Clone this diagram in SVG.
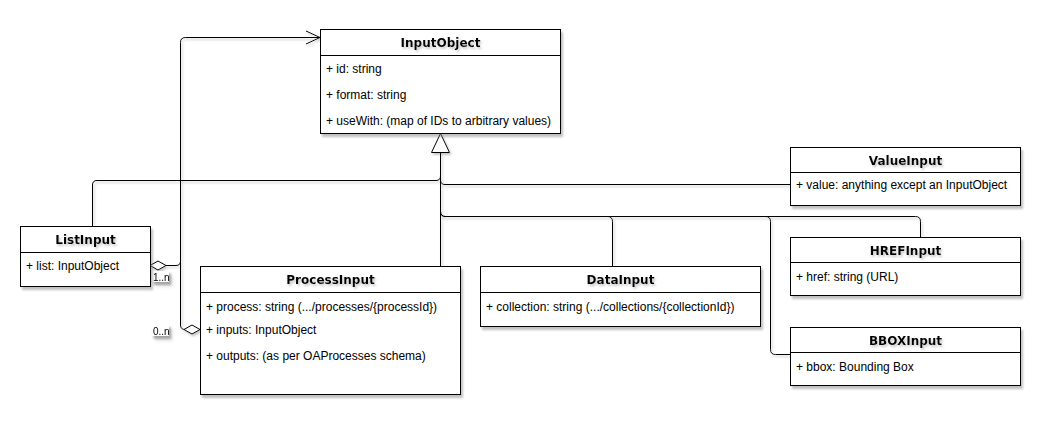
<svg xmlns="http://www.w3.org/2000/svg" width="1052" height="426" viewBox="0 0 1052 426">
<defs>
<filter id="sh" x="-10%" y="-10%" width="130%" height="140%">
<feDropShadow dx="2" dy="3" stdDeviation="1.3" flood-color="#808080" flood-opacity="0.5"/>
</filter>
<filter id="tsh" x="-10%" y="-30%" width="130%" height="180%">
<feDropShadow dx="1.5" dy="2" stdDeviation="1" flood-color="#808080" flood-opacity="0.45"/>
</filter>
<marker id="open" markerUnits="userSpaceOnUse" markerWidth="16" markerHeight="15" refX="14" refY="6.5" orient="auto" overflow="visible">
<path d="M0,0 L14,6.5 L0,13" fill="none" stroke="#000" stroke-width="1"/>
</marker>
<marker id="diamond" markerUnits="userSpaceOnUse" markerWidth="18" markerHeight="12" refX="0" refY="5" orient="auto" overflow="visible">
<path d="M0,5 L8,0.5 L16,5 L8,9.5 Z" fill="#fff" stroke="#000" stroke-width="1"/>
</marker>
<marker id="tri" markerUnits="userSpaceOnUse" markerWidth="22" markerHeight="22" refX="19" refY="9" orient="auto" overflow="visible">
<path d="M0,0 L19,9 L0,18 Z" fill="#fff" stroke="#000" stroke-width="1"/>
</marker>
</defs>
<style>
.box{fill:#fff;stroke:#000;stroke-width:1;filter:url(#sh)}
.sep{stroke:#000;stroke-width:1}
.title{font-family:"DejaVu Sans",Verdana,sans-serif;font-weight:bold;font-size:12px;fill:#000;text-anchor:middle;filter:url(#tsh)}
.attr{font-family:"Liberation Sans",Arial,sans-serif;font-size:12px;fill:#000}
.lbl{font-family:"Liberation Sans",Arial,sans-serif;font-size:10px;fill:#000}
.lblbg{fill:#fff;filter:url(#sh)}
.edge{fill:none;stroke:#000;stroke-width:1}
</style>
<rect width="1052" height="426" fill="#fff"/>

<g id="connectors" filter="url(#tsh)">
<path class="edge" d="M92.5,226 V185 Q92.5,180.5 97,180.5 H436 Q440.5,180.5 440.5,176 V152"/>
<path class="edge" d="M790,184.5 H445 Q440.5,184.5 440.5,180 V152"/>
<path class="edge" d="M612.5,266 V221.5 Q612.5,216.5 607.5,216.5 H445.5 Q440.5,216.5 440.5,211.5 V152"/>
<path class="edge" d="M920.5,237 V221.5 Q920.5,216.5 915.5,216.5 H445.5 Q440.5,216.5 440.5,211.5 V152"/>
<path class="edge" d="M790,354.5 H775.5 Q770.5,354.5 770.5,349.5 V221.5 Q770.5,216.5 765.5,216.5 H445.5"/>
<path class="edge" d="M440.5,266 V133.5" marker-end="url(#tri)"/>
<path class="edge" d="M150,265.5 H176 Q180.5,265.5 180.5,261 V42.5 Q180.5,37.5 185.5,37.5 H320" marker-start="url(#diamond)" marker-end="url(#open)"/>
<path class="edge" d="M200,329.5 H185 Q180.5,329.5 180.5,325 V260"/>
<path d="M200,329.5 L192,325 L184,329.5 L192,334 Z" fill="#fff" stroke="#000" stroke-width="1"/>
<rect class="lblbg" x="152" y="271" width="17" height="11"/>
<text class="lbl" x="153" y="280.5">1..n</text>
<rect class="lblbg" x="152" y="325" width="17" height="11"/>
<text class="lbl" x="153" y="334.5">0..n</text>
</g>

<g id="InputObject">
<rect class="box" x="320.5" y="29.5" width="240" height="104"/>
<line class="sep" x1="320.5" y1="55.5" x2="560.5" y2="55.5"/>
<text class="title" x="440.5" y="46.5">InputObject</text>
<text class="attr" x="326" y="73">+ id: string</text>
<text class="attr" x="326" y="99">+ format: string</text>
<text class="attr" x="326" y="125">+ useWith: (map of IDs to arbitrary values)</text>
</g>

<g id="ValueInput">
<rect class="box" x="790.5" y="147.5" width="230" height="58"/>
<line class="sep" x1="790.5" y1="172.5" x2="1020.5" y2="172.5"/>
<text class="title" x="905.5" y="164.5">ValueInput</text>
<text class="attr" x="796" y="189">+ value: anything except an InputObject</text>
</g>

<g id="HREFInput">
<rect class="box" x="790.5" y="237.5" width="230" height="58"/>
<line class="sep" x1="790.5" y1="262.5" x2="1020.5" y2="262.5"/>
<text class="title" x="905.5" y="254.5">HREFInput</text>
<text class="attr" x="796" y="281">+ href: string (URL)</text>
</g>

<g id="BBOXInput">
<rect class="box" x="790.5" y="327.5" width="230" height="58"/>
<line class="sep" x1="790.5" y1="352.5" x2="1020.5" y2="352.5"/>
<text class="title" x="905.5" y="344.5">BBOXInput</text>
<text class="attr" x="796" y="371">+ bbox: Bounding Box</text>
</g>

<g id="ListInput">
<rect class="box" x="20.5" y="226.5" width="130" height="60"/>
<line class="sep" x1="20.5" y1="252.5" x2="150.5" y2="252.5"/>
<text class="title" x="85.5" y="243.5">ListInput</text>
<text class="attr" x="26" y="270">+ list: InputObject</text>
</g>

<g id="ProcessInput">
<rect class="box" x="200.5" y="266.5" width="260" height="128"/>
<line class="sep" x1="200.5" y1="292.5" x2="460.5" y2="292.5"/>
<text class="title" x="330.5" y="283.5">ProcessInput</text>
<text class="attr" x="206" y="310.5">+ process: string (.../processes/{processId})</text>
<text class="attr" x="206" y="334">+ inputs: InputObject</text>
<text class="attr" x="206" y="360">+ outputs: (as per OAProcesses schema)</text>
</g>

<g id="DataInput">
<rect class="box" x="480.5" y="266.5" width="280" height="60"/>
<line class="sep" x1="480.5" y1="292.5" x2="760.5" y2="292.5"/>
<text class="title" x="620.5" y="283.5">DataInput</text>
<text class="attr" x="486" y="311">+ collection: string (.../collections/{collectionId})</text>
</g>
</svg>
